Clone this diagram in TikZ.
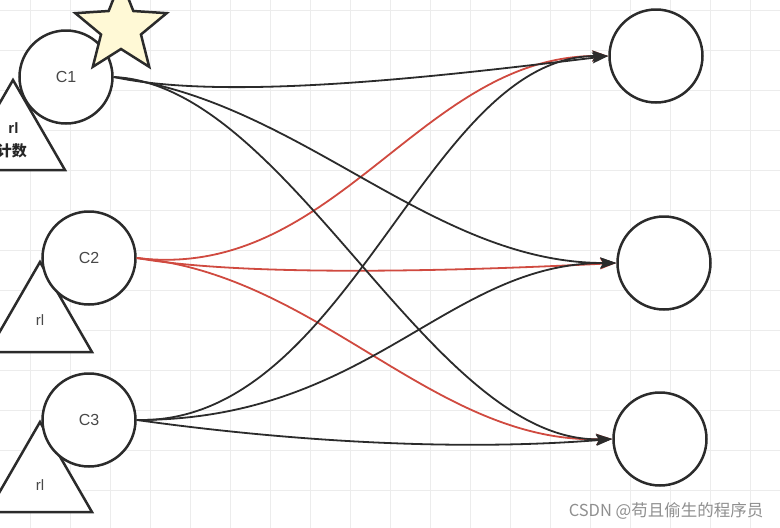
\documentclass[tikz,border=0pt]{standalone}
\usepackage{fontspec}
\setmainfont{Liberation Sans}
\newfontfamily\cjk{Noto Sans CJK SC}
\usetikzlibrary{arrows.meta,shapes.geometric}
\definecolor{gridc}{HTML}{ECECEC}
\definecolor{linec}{HTML}{2B2B2B}
\definecolor{redc}{HTML}{D04A40}
\definecolor{starfill}{HTML}{FFF9D6}
\definecolor{txtc}{HTML}{484848}
\definecolor{wm}{HTML}{8F8F8F}
\begin{document}
\begin{tikzpicture}[x=1pt,y=-1pt,
  circ/.style={circle,draw=linec,line width=2.5pt,fill=white,minimum size=93pt,inner sep=0pt},
  tri/.style={regular polygon,regular polygon sides=3,draw=linec,line width=2.5pt,fill=white,minimum size=120pt,inner sep=0pt},
  lbl/.style={text=txtc,font=\fontsize{16}{18}\selectfont},
  edge/.style={draw=linec,line width=1.8pt,-{Stealth[length=16pt,width=11pt,inset=3pt]}},
  redge/.style={edge,draw=redc},
  gridline/.style={draw=gridc,line width=1pt}]
\useasboundingbox (0,0) rectangle (780,528);
\clip (0,0) rectangle (780,528);
\fill[white] (0,0) rectangle (780,528);
% grid
\foreach \x in {30,70,...,750} \draw[gridline] (\x,0) -- (\x,528);
\foreach \y in {10,50,...,490} \draw[gridline] (0,\y) -- (780,\y);
% triangles
\node[tri] (t1) at (13,140) {};
\node[tri] (t2) at (40,322) {};
\node[tri] (t3) at (40,482) {};
% source circles
\node[circ,lbl] (c1) at (66,77) {C1};
\node[circ,lbl] (c2) at (89,258) {C2};
\node[circ,lbl] (c3) at (89,420) {C3};
% star
\draw[draw=linec,line width=2.5pt,fill=starfill,line join=miter]
  (121,-20) -- (133.34,11.01) -- (166.65,13.17) -- (140.97,34.49) -- (149.21,66.83)
  -- (121,49) -- (92.79,66.83) -- (101.03,34.49) -- (75.35,13.17) -- (108.66,11.01) -- cycle;
% target circles
\node[circ] (r1) at (656,56) {};
\node[circ] (r2) at (664,263) {};
\node[circ] (r3) at (660,439) {};
% triangle labels
\node[text=black!85,font=\bfseries\fontsize{15}{23}\selectfont,align=center] (l1) at (12,140) {\hspace*{3pt}rl\\{\cjk\bfseries 计数}};
\node[lbl,font=\fontsize{15}{18}\selectfont] (l2) at (40,320) {rl};
\node[lbl,font=\fontsize{15}{18}\selectfont] (l3) at (40,485) {rl};
% red edges (C2)
\draw[redge] (c2.east) .. controls (335,282) and (420,56) .. (r1.west);
\draw[redge] (c2.east) .. controls (250,278) and (480,270) .. (r2.west);
\draw[redge] (c2.east) .. controls (320,275) and (433,443) .. (r3.west);
% black edges (C1)
\draw[edge] (c1.east) .. controls (230,102) and (450,75) .. (r1.west);
\draw[edge] (c1.east) .. controls (300,100) and (430,263) .. (r2.west);
\draw[edge] (c1.east) .. controls (290,85) and (430,443) .. (r3.west);
% black edges (C3)
\draw[edge] (c3.east) .. controls (350,425) and (425,56) .. (r1.west);
\draw[edge] (c3.east) .. controls (370,420) and (446,263) .. (r2.west);
\draw[edge] (c3.east) .. controls (280,440) and (450,452) .. (r3.west);
% watermark
\node[text=wm,font=\cjk\fontsize{16.5}{19}\selectfont] (wmk) at (666,511) {CSDN @苟且偷生的程序员};
\end{tikzpicture}
\end{document}
